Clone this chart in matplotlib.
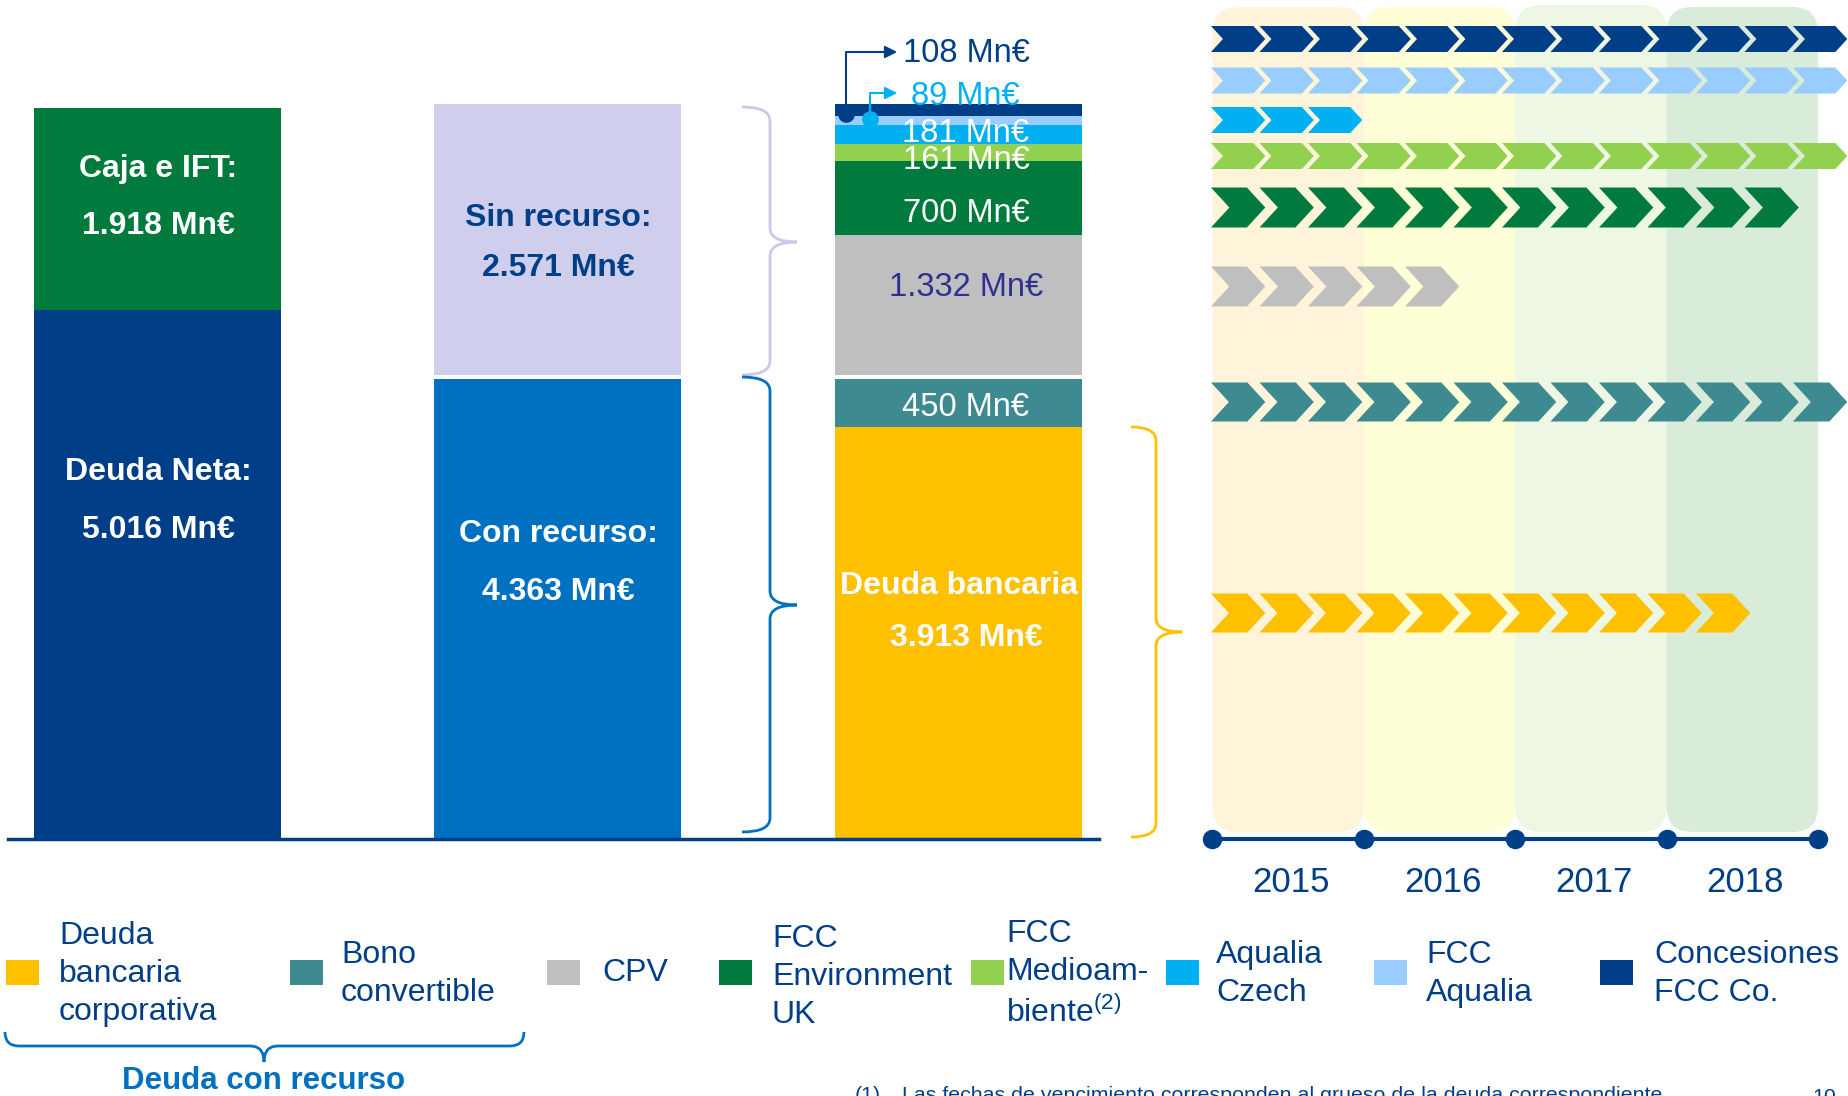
import numpy as np
import matplotlib.pyplot as plt
from matplotlib.patches import Polygon, FancyBboxPatch, PathPatch, Rectangle
from matplotlib.path import Path

plt.rcParams['font.family'] = ['Liberation Sans', 'DejaVu Sans']
plt.rcParams['mathtext.fontset'] = 'custom'
plt.rcParams['mathtext.rm'] = 'Liberation Sans'

# ---- data (Mn€) ----
caja_ift = 1918
deuda_neta = 5016
sin_recurso = 2571
con_recurso = 4363
deuda_bancaria = 3913
bono_convertible = 450
# CPV, FCC Environment UK, FCC Medioambiente, Aqualia Czech, FCC Aqualia, Concesiones FCC Co.
sin_rec_values = [1332, 700, 161, 181, 89, 108]

legend_labels = ['Deuda\nbancaria\ncorporativa', 'Bono\nconvertible', 'CPV',
                 'FCC\nEnvironment\nUK', 'FCC\nMedioam-\nbiente$^{(2)}$',
                 'Aqualia\nCzech', 'FCC\nAqualia', 'Concesiones\nFCC Co.']
legend_colors = ['#FFC000', '#3E8A91', '#BFBFBF', '#007A3D',
                 '#92D050', '#00B0F0', '#99CCFF', '#003F87']
# chevrons per maturity row, same order as the legend
chevron_counts = [11, 13, 5, 12, 13, 3, 13, 13]
years = [2015, 2016, 2017, 2018]

NAVY = '#003F87'
BLUE = '#0070C0'
GREEN = '#007A3D'
LAVENDER = '#CFCFED'


def fmt(v):
    return f"{v:,}".replace(',', '.') + ' Mn€'


fig = plt.figure(figsize=(18.48, 10.96), dpi=100)
fig.patch.set_facecolor('white')

# ---- maturity timeline: x in years, y in pixel rows ----
ax2 = fig.add_axes([0, 0, 1, 1])
PXY = 151.4
X0 = 1212.5
ax2.set_xlim(years[0] - X0 / PXY, years[0] + (1848 - X0) / PXY)
ax2.set_ylim(1096, 0)
ax2.axis('off')

col_colors = ['#FEF4DA', '#FFFFD7', '#EEF6E4', '#D9EBD9']
col_tops = [7, 7, 5, 7]
for yr, c, top in zip(years, col_colors, col_tops):
    ax2.add_patch(FancyBboxPatch((yr, top), 1, 832 - top,
                                 boxstyle='round,pad=0,rounding_size=0.17',
                                 mutation_aspect=PXY, fc=c, ec='none', zorder=1))

row_y = [613, 402, 286.5, 207.5, 156, 120, 80.5, 39]
row_h = [39, 39, 40, 40, 26, 26, 26, 26]
pitch = 48.5 / PXY
cw = 54.3 / PXY
start = years[0] - 0.01
for n, c, yc, h in zip(chevron_counts, legend_colors, row_y, row_h):
    d = 0.46 * h / PXY
    for i in range(n):
        x0 = start + i * pitch
        pts = [(x0, yc - h / 2), (x0 + cw - d, yc - h / 2), (x0 + cw, yc),
               (x0 + cw - d, yc + h / 2), (x0, yc + h / 2), (x0 + d, yc)]
        ax2.add_patch(Polygon(pts, closed=True, fc=c, ec='none', zorder=3))

bounds = years + [years[-1] + 1]
ax2.plot(bounds, [839] * len(bounds), '-o', color=NAVY, lw=3, ms=13, zorder=4, clip_on=False)
for yr in years:
    ax2.text(yr + 0.52, 882, str(yr), ha='center', va='center', fontsize=25, color=NAVY)

# ---- stacked bars ----
ax1 = fig.add_axes([8 / 1848, (1096 - 839) / 1096, 1090.5 / 1848, 839 / 1096])
ax1.set_xlim(-0.3716, 2.348)
ax1.set_ylim(0, 839 / 0.1054)
ax1.patch.set_alpha(0)
for s in ['top', 'left', 'right']:
    ax1.spines[s].set_visible(False)
ax1.spines['bottom'].set_color(NAVY)
ax1.spines['bottom'].set_linewidth(2.5)
ax1.set_xticks([])
ax1.set_yticks([])

w = 0.616
gap = 38
ax1.bar(0, deuda_neta, width=w, color=NAVY, lw=0)
ax1.bar(0, caja_ift, width=w, bottom=deuda_neta, color=GREEN, lw=0)
ax1.bar(1, con_recurso, width=w, color=BLUE, lw=0)
ax1.bar(1, sin_recurso, width=w, bottom=con_recurso + gap, color=LAVENDER, lw=0)
ax1.bar(2, deuda_bancaria, width=w, color=legend_colors[0], lw=0)
ax1.bar(2, bono_convertible, width=w, bottom=deuda_bancaria, color=legend_colors[1], lw=0)
bottoms = con_recurso + gap + np.concatenate([[0], np.cumsum(sin_rec_values)[:-1]])
ax1.bar([2] * len(sin_rec_values), sin_rec_values, width=w, bottom=bottoms,
        color=legend_colors[2:], lw=0)

# ---- overlay in pixel coordinates ----
ov = fig.add_axes([0, 0, 1, 1])
ov.set_xlim(0, 1848)
ov.set_ylim(1096, 0)
ov.axis('off')

bold = dict(ha='center', va='center', fontsize=23, fontweight='bold')
ov.text(158, 168.5, 'Caja e IFT:', color='white', **bold)
ov.text(158, 226.5, fmt(caja_ift), color='white', **bold)
ov.text(158, 472.5, 'Deuda Neta:', color='white', **bold)
ov.text(158, 529.5, fmt(deuda_neta), color='white', **bold)
ov.text(558, 218.5, 'Sin recurso:', color=NAVY, **bold)
ov.text(558, 267.5, fmt(sin_recurso), color=NAVY, **bold)
ov.text(558, 533.5, 'Con recurso:', color='white', **bold)
ov.text(558, 591.5, fmt(con_recurso), color='white', **bold)
ov.text(959, 586.5, 'Deuda bancaria', color='white', **bold)
ov.text(966, 637.5, fmt(deuda_bancaria), color='white', **bold)

reg = dict(ha='center', va='center', fontsize=23.5)
ov.text(966, 407.5, fmt(bono_convertible), color='white', **reg)
ov.text(966, 287.5, fmt(sin_rec_values[0]), color='#2E3192', **reg)
ov.text(966, 213.5, fmt(sin_rec_values[1]), color='white', **reg)
ov.text(966, 160.5, fmt(sin_rec_values[2]), color='white', **reg)
ov.text(966, 133.5, fmt(sin_rec_values[3]), color='white', **reg)
ov.text(911, 96.5, fmt(sin_rec_values[4]), color='#00B0F0', ha='left', va='center', fontsize=23.5)
ov.text(903, 54, fmt(sin_rec_values[5]), color=NAVY, ha='left', va='center', fontsize=23.5)

# callout arrows for the two thin segments
ov.plot([846, 846, 890], [114, 52, 52], color=NAVY, lw=1.5)
ov.annotate('', xy=(900, 52), xytext=(884, 52),
            arrowprops=dict(arrowstyle='-|>', color=NAVY, lw=1.5, mutation_scale=18))
ov.plot([846], [114], 'o', color=NAVY, ms=11)
ov.plot([870, 870, 890], [119, 93, 93], color='#00B0F0', lw=1.5)
ov.annotate('', xy=(900, 93), xytext=(884, 93),
            arrowprops=dict(arrowstyle='-|>', color='#00B0F0', lw=1.5, mutation_scale=18))
ov.plot([870], [119], 'o', color='#00B0F0', ms=11)


def vbrace(ax, x_end, x_sp, x_tip, y_top, y_bot, y_tip, color, r=14, lw=2):
    verts = [(x_end, y_top), (x_sp, y_top), (x_sp, y_top + r),
             (x_sp, y_tip - r), (x_sp, y_tip), (x_tip, y_tip),
             (x_sp, y_tip), (x_sp, y_tip + r),
             (x_sp, y_bot - r), (x_sp, y_bot), (x_end, y_bot)]
    codes = [Path.MOVETO, Path.CURVE3, Path.CURVE3, Path.LINETO, Path.CURVE3, Path.CURVE3,
             Path.CURVE3, Path.CURVE3, Path.LINETO, Path.CURVE3, Path.CURVE3]
    ax.add_patch(PathPatch(Path(verts, codes), fc='none', ec=color, lw=lw))


def hbrace(ax, y_end, y_sp, y_tip, x_l, x_r, x_tip, color, r=14, lw=2):
    verts = [(x_l, y_end), (x_l, y_sp), (x_l + r, y_sp),
             (x_tip - r, y_sp), (x_tip, y_sp), (x_tip, y_tip),
             (x_tip, y_sp), (x_tip + r, y_sp),
             (x_r - r, y_sp), (x_r, y_sp), (x_r, y_end)]
    codes = [Path.MOVETO, Path.CURVE3, Path.CURVE3, Path.LINETO, Path.CURVE3, Path.CURVE3,
             Path.CURVE3, Path.CURVE3, Path.LINETO, Path.CURVE3, Path.CURVE3]
    ax.add_patch(PathPatch(Path(verts, codes), fc='none', ec=color, lw=lw))


vbrace(ov, 742, 770, 797, 107, 375, 242, '#C9C9EA')
vbrace(ov, 742, 770, 797, 377, 832, 605, BLUE)
vbrace(ov, 1131, 1156, 1182, 427, 837, 632, '#FFC000')
hbrace(ov, 1032, 1046, 1062, 5, 524, 264, BLUE)
ov.text(264, 1081, 'Deuda con recurso', ha='center', va='center', fontsize=22.5,
        fontweight='bold', color=BLUE)

# ---- legend ----
sq_x = [6, 290, 547, 719, 971, 1166, 1374, 1600]
tx_x = [59, 341, 602, 772, 1006, 1216, 1426, 1654]
tx_y = [974, 974, 973, 977, 974, 974, 974, 974]
for lab, c, sx, tx, ty in zip(legend_labels, legend_colors, sq_x, tx_x, tx_y):
    ov.add_patch(Rectangle((sx, 960), 33, 25, fc=c, ec='none'))
    ov.text(tx, ty, lab, ha='left', va='center', fontsize=23, color=NAVY,
            linespacing=1.34)

# footnote (cut by the page edge)
ov.text(855, 1101, '(1)', ha='left', va='baseline', fontsize=15.4, color=NAVY)
ov.text(902, 1101, 'Las fechas de vencimiento corresponden al grueso de la deuda correspondiente',
        ha='left', va='baseline', fontsize=15.4, color=NAVY)
ov.text(1812, 1103, '10', ha='left', va='baseline', fontsize=15.4, color=NAVY)

fig.savefig('out.png', dpi=100, facecolor='white')
